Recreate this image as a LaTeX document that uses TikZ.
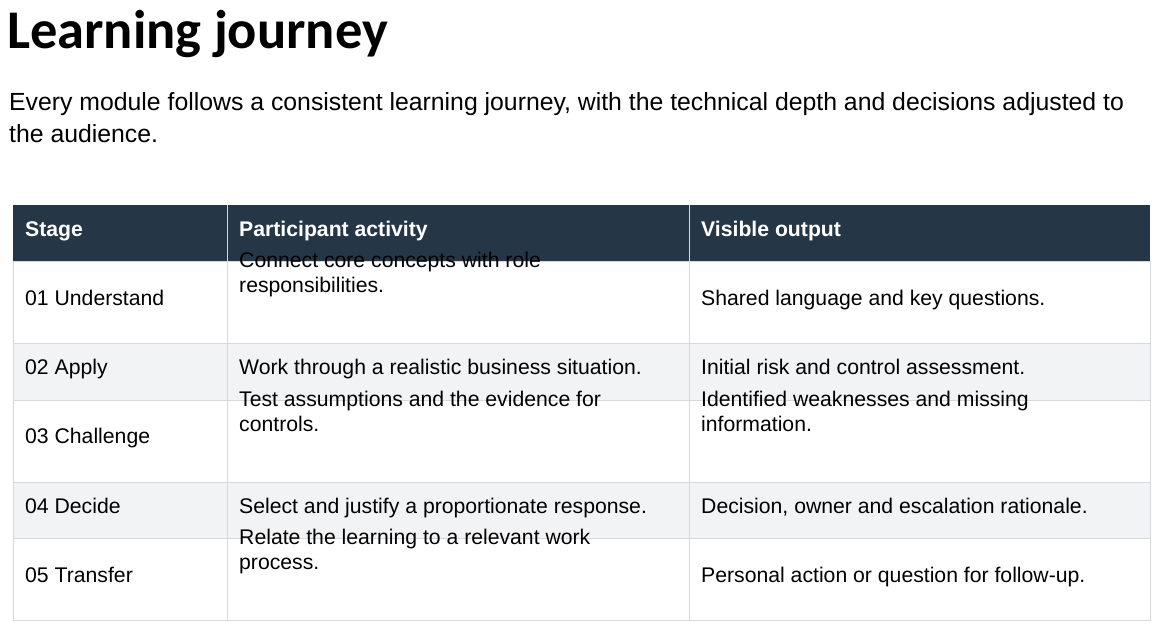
\documentclass[tikz,border=0pt]{standalone}
\usepackage{fontspec}
\setmainfont{Liberation Sans}
\newfontfamily\titlefont{Carlito}
\definecolor{hdr}{HTML}{253746}
\definecolor{alt}{HTML}{F2F3F5}
\definecolor{grid}{HTML}{D5D8DC}
\begin{document}
\begin{tikzpicture}[x=1pt,y=-1pt,
  cell/.style={anchor=base west,align=left,inner sep=0pt,font=\fontsize{21.2}{25}\selectfont},
  head/.style={cell,text=white,font=\fontsize{21.2}{25}\selectfont\bfseries}]
\useasboundingbox (0,0) rectangle (1160,630);
\node[anchor=base west,inner sep=0pt,font=\titlefont\fontsize{54.5}{58}\selectfont\bfseries] (title) at (7,48) {Learning journey};
\node[anchor=base west,inner sep=0pt,align=left,font=\fontsize{24.8}{32}\selectfont] (sub) at (9,142) {Every module follows a consistent learning journey, with the technical depth and decisions adjusted to\\the audience.};
% header
\fill[hdr] (13,205) rectangle (1150,261);
\draw[grid] (227,205) -- (227,261) (689,205) -- (689,261);
% rows
\fill[alt] (13,343) rectangle (1150,400);
\fill[alt] (13,482) rectangle (1150,538);
\draw[grid] (13,261) rectangle (1150,620);
\foreach \y in {343,400,482,538} \draw[grid] (13,\y) -- (1150,\y);
\draw[grid] (227,261) -- (227,620) (689,261) -- (689,620);
\node[head] (h1) at (25,236) {Stage};
\node[head] (h2) at (239,236) {Participant activity};
\node[head] (h3) at (701,236) {Visible output};
\node[cell] (a1) at (25,305) {01 Understand};
\node[cell] (b1) at (239,292) {Connect core concepts with role\\responsibilities.};
\node[cell] (c1) at (701,305) {Shared language and key questions.};
\node[cell] (a2) at (25,374) {02 Apply};
\node[cell] (b2) at (239,374) {Work through a realistic business situation.};
\node[cell] (c2) at (701,374) {Initial risk and control assessment.};
\node[cell] (a3) at (25,443) {03 Challenge};
\node[cell] (b3) at (239,431) {Test assumptions and the evidence for\\controls.};
\node[cell] (c3) at (701,431) {Identified weaknesses and missing\\information.};
\node[cell] (a4) at (25,513) {04 Decide};
\node[cell] (b4) at (239,513) {Select and justify a proportionate response.};
\node[cell] (c4) at (701,513) {Decision, owner and escalation rationale.};
\node[cell] (a5) at (25,582) {05 Transfer};
\node[cell] (b5) at (239,569) {Relate the learning to a relevant work\\process.};
\node[cell] (c5) at (701,582) {Personal action or question for follow-up.};
\end{tikzpicture}
\end{document}
